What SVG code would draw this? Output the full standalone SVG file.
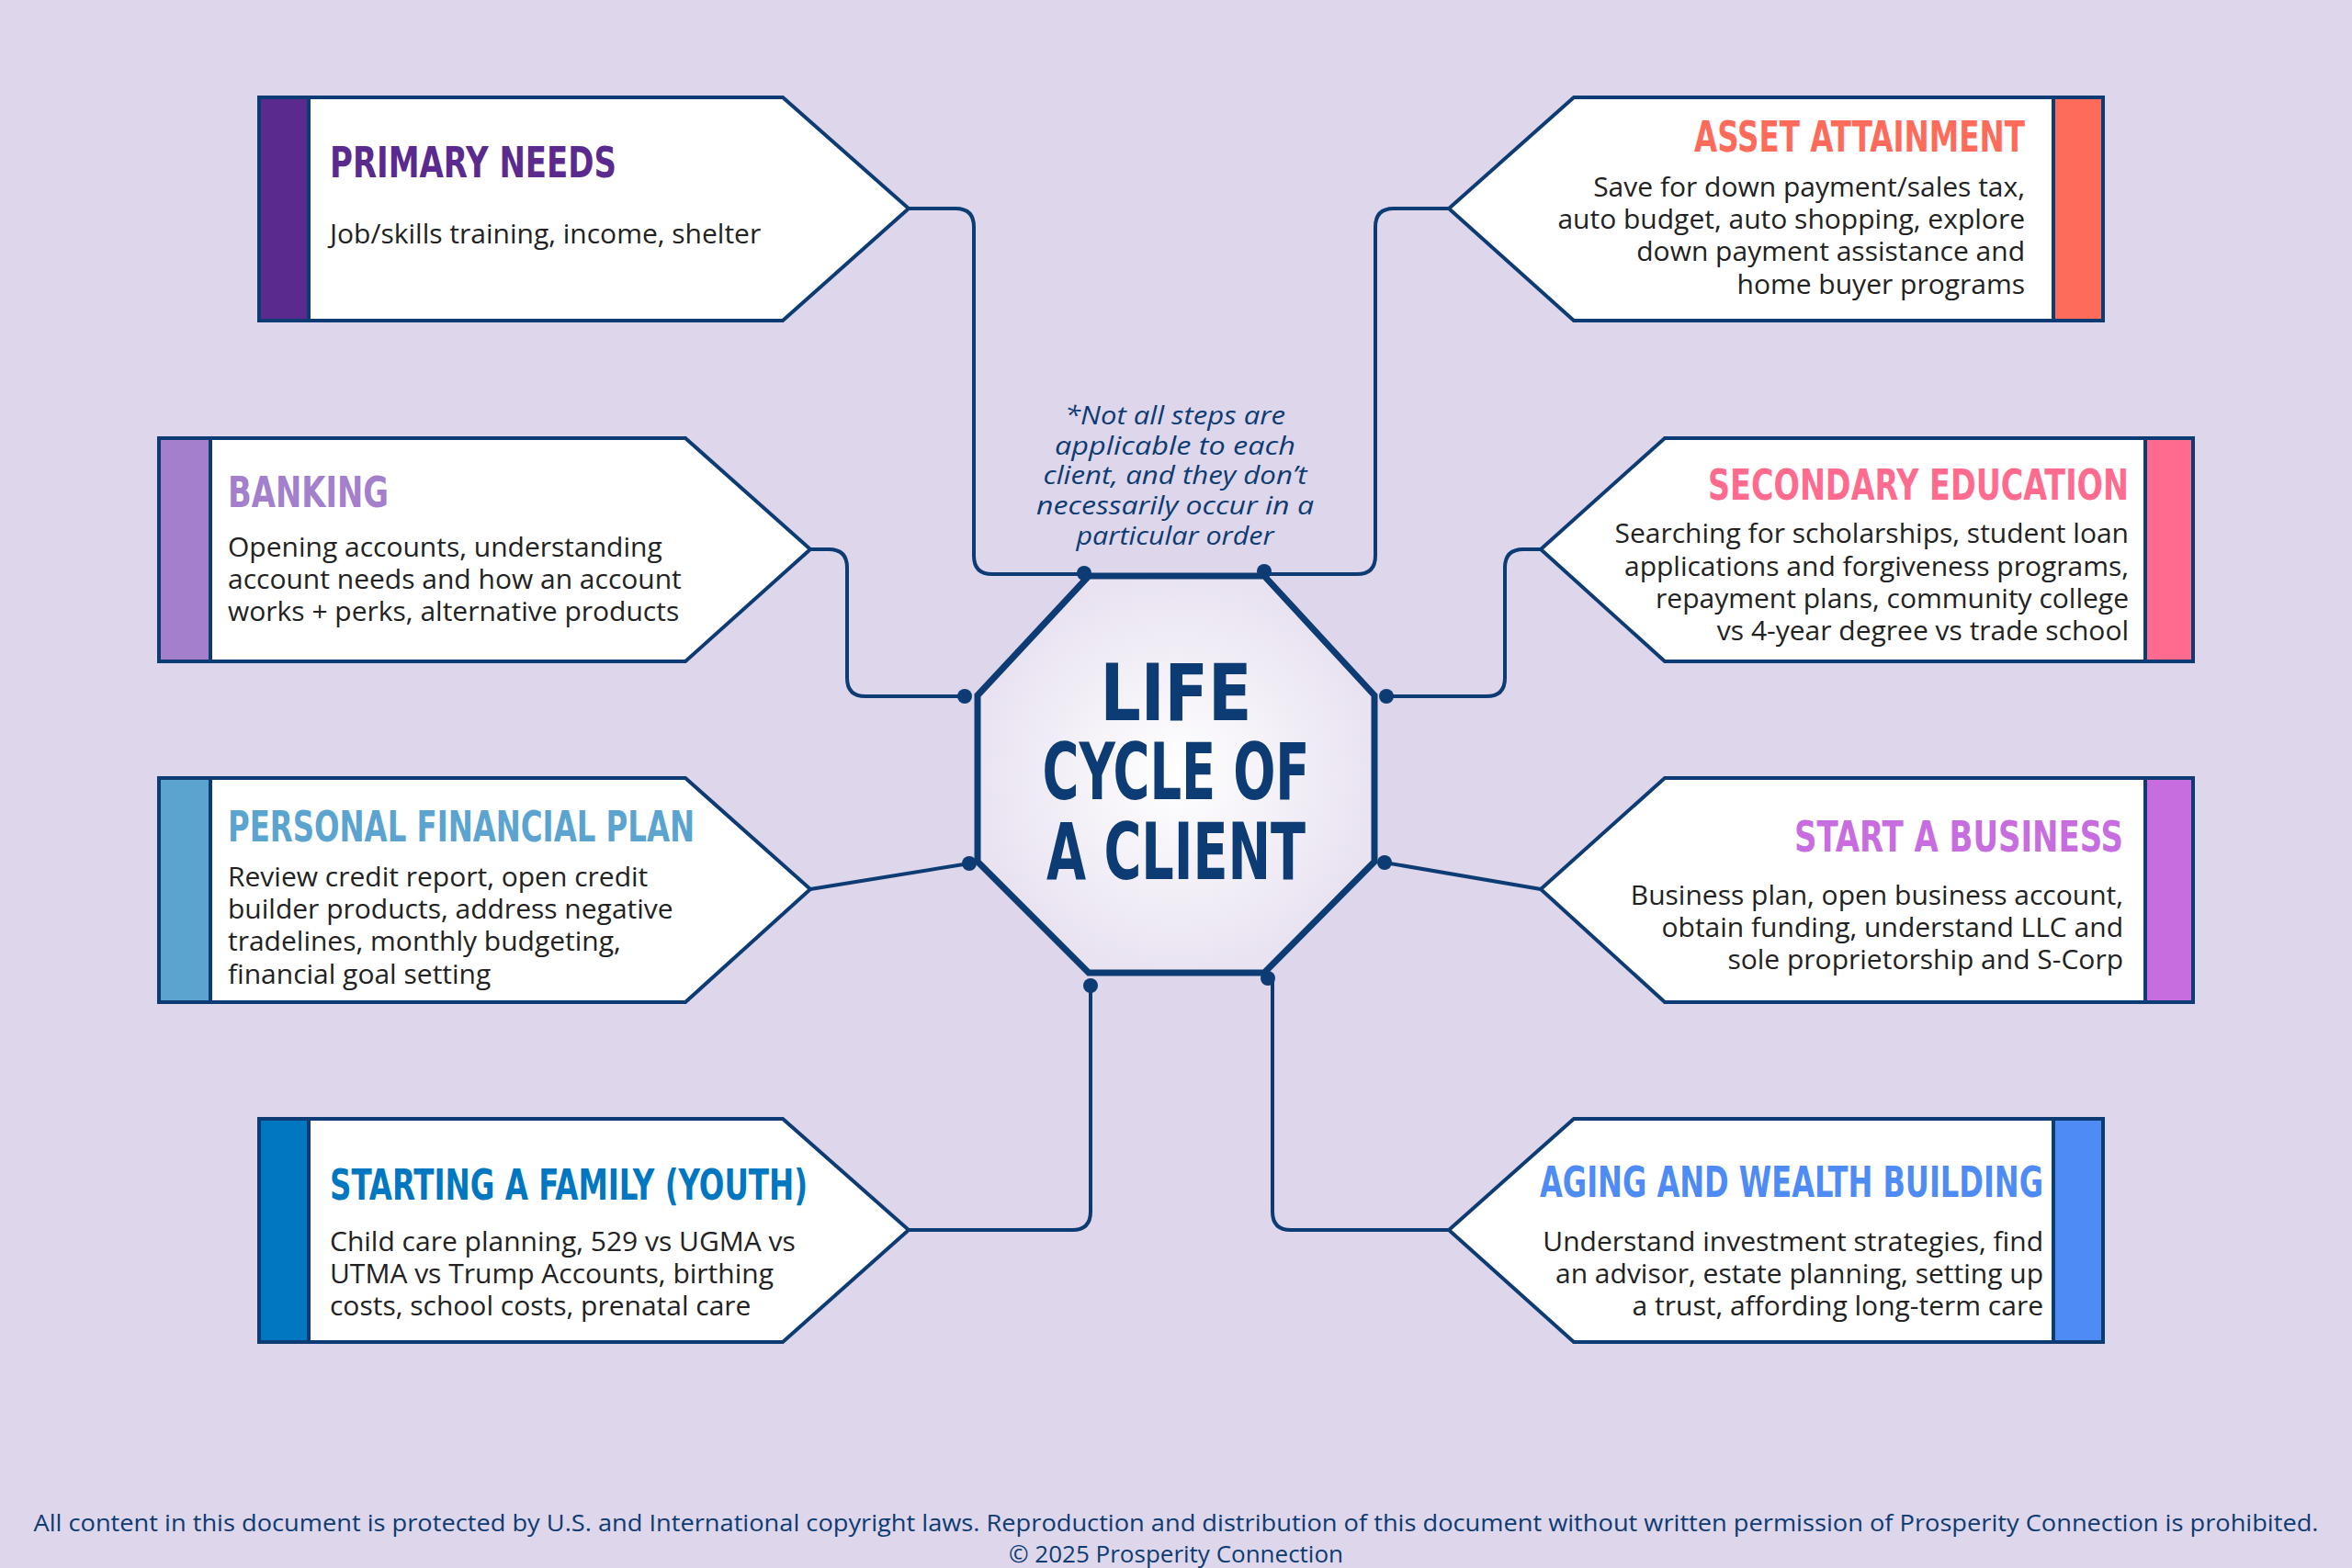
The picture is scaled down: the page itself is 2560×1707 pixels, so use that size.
<svg xmlns="http://www.w3.org/2000/svg" width="2560" height="1707" viewBox="0 0 2560 1707">
<defs>
<radialGradient id="og" cx="50%" cy="50%" r="50%"><stop offset="0" stop-color="#FFFFFF"/><stop offset="1" stop-color="#E9E3F1"/></radialGradient>
<style>
.box{fill:#fff;stroke:#0D3B73;stroke-width:4;stroke-linejoin:miter}
.bar{stroke:#0D3B73;stroke-width:4}
.t{font-family:"DejaVu Sans Condensed","DejaVu Sans",sans-serif;font-weight:bold;font-size:46px}
.b{font-family:"Open Sans",Lato,sans-serif;font-size:30px;fill:#222}
.r{text-anchor:end}
.c{fill:none;stroke:#0D3B73;stroke-width:4}
.d{fill:#0D3B73}
</style>
</defs>
<rect width="2560" height="1707" fill="#DED6EA"/>
<g id="connectors">
<path class="c" d="M989 227 H1040 Q1060 227 1060 247 V605 Q1060 625 1080 625 H1180"/>
<path class="c" d="M1577 227 H1517 Q1497 227 1497 247 V605 Q1497 625 1477 625 H1376"/>
<path class="c" d="M882 598 H902 Q922 598 922 618 V738 Q922 758 942 758 H1050"/>
<path class="c" d="M1677 598 H1658 Q1638 598 1638 618 V738 Q1638 758 1618 758 H1509"/>
<path class="c" d="M882 968 L1055 940"/>
<path class="c" d="M1677 968 L1507 939"/>
<path class="c" d="M989 1339 H1167 Q1187 1339 1187 1319 V1073"/>
<path class="c" d="M1577 1339 H1405 Q1385 1339 1385 1319 V1065"/>
<circle class="d" cx="1180" cy="624" r="8"/><circle class="d" cx="1376" cy="622" r="8"/>
<circle class="d" cx="1050" cy="758" r="8"/><circle class="d" cx="1055" cy="940" r="8"/>
<circle class="d" cx="1509" cy="758" r="8"/><circle class="d" cx="1507" cy="939" r="8"/>
<circle class="d" cx="1187" cy="1073" r="8"/><circle class="d" cx="1380" cy="1065" r="8"/>
</g>
<g id="center">
<polygon points="1185,627 1376,627 1496,757 1496,938 1376,1059 1185,1059 1064,938 1064,757" fill="url(#og)" stroke="#0D3B73" stroke-width="7"/>
<g font-family="'DejaVu Sans Condensed','DejaVu Sans',sans-serif" font-weight="bold" font-size="86" fill="#0D3B73" text-anchor="middle">
<text x="1280" y="784" textLength="165" lengthAdjust="spacingAndGlyphs">LIFE</text>
<text x="1280" y="870" textLength="291" lengthAdjust="spacingAndGlyphs">CYCLE OF</text>
<text x="1280" y="957" textLength="282" lengthAdjust="spacingAndGlyphs">A CLIENT</text>
</g>
</g>
<g id="note" font-family="'Open Sans',sans-serif" font-style="italic" font-size="28" fill="#0D3B73" text-anchor="middle">
<text x="1279" y="462" textLength="240" lengthAdjust="spacingAndGlyphs">*Not all steps are</text>
<text x="1279" y="495" textLength="262" lengthAdjust="spacingAndGlyphs">applicable to each</text>
<text x="1279" y="527" textLength="287" lengthAdjust="spacingAndGlyphs">client, and they don’t</text>
<text x="1279" y="560" textLength="302" lengthAdjust="spacingAndGlyphs">necessarily occur in a</text>
<text x="1279" y="593" textLength="215" lengthAdjust="spacingAndGlyphs">particular order</text>
</g>
<g id="primary">
<polygon class="box" points="282,106 852,106 989,227 852,349 282,349"/>
<rect class="bar" x="282" y="106" width="54" height="243" fill="#5B2A8E"/>
<text class="t" x="359" y="193" fill="#5B2A8E" textLength="312" lengthAdjust="spacingAndGlyphs">PRIMARY NEEDS</text>
<text class="b" x="359" y="265">Job/skills training, income, shelter</text>
</g>
<g id="banking">
<polygon class="box" points="173,477 746,477 882,598 746,720 173,720"/>
<rect class="bar" x="173" y="477" width="56" height="243" fill="#A37FCC"/>
<text class="t" x="248" y="552" fill="#A37FCC" textLength="175" lengthAdjust="spacingAndGlyphs">BANKING</text>
<text class="b" x="248" y="606">Opening accounts, understanding</text>
<text class="b" x="248" y="641">account needs and how an account</text>
<text class="b" x="248" y="676">works + perks, alternative products</text>
</g>
<g id="pfp">
<polygon class="box" points="173,847 746,847 882,968 746,1091 173,1091"/>
<rect class="bar" x="173" y="847" width="56" height="244" fill="#5BA4D0"/>
<text class="t" x="248" y="916" fill="#5BA4D0" textLength="508" lengthAdjust="spacingAndGlyphs">PERSONAL FINANCIAL PLAN</text>
<text class="b" x="248" y="965">Review credit report, open credit</text>
<text class="b" x="248" y="1000">builder products, address negative</text>
<text class="b" x="248" y="1035">tradelines, monthly budgeting,</text>
<text class="b" x="248" y="1071">financial goal setting</text>
</g>
<g id="family">
<polygon class="box" points="282,1218 852,1218 989,1339 852,1461 282,1461"/>
<rect class="bar" x="282" y="1218" width="54" height="243" fill="#0077C0"/>
<text class="t" x="359" y="1306" fill="#0077C0" textLength="520" lengthAdjust="spacingAndGlyphs">STARTING A FAMILY (YOUTH)</text>
<text class="b" x="359" y="1362">Child care planning, 529 vs UGMA vs</text>
<text class="b" x="359" y="1397">UTMA vs Trump Accounts, birthing</text>
<text class="b" x="359" y="1432">costs, school costs, prenatal care</text>
</g>
<g id="asset">
<polygon class="box" points="2289,106 1713,106 1577,227 1713,349 2289,349"/>
<rect class="bar" x="2235" y="106" width="54" height="243" fill="#FF6B5B"/>
<text class="t r" x="2204" y="165" fill="#FF6B5B" textLength="360" lengthAdjust="spacingAndGlyphs">ASSET ATTAINMENT</text>
<text class="b r" x="2204" y="214">Save for down payment/sales tax,</text>
<text class="b r" x="2204" y="249">auto budget, auto shopping, explore</text>
<text class="b r" x="2204" y="284">down payment assistance and</text>
<text class="b r" x="2204" y="320">home buyer programs</text>
</g>
<g id="secondary">
<polygon class="box" points="2387,477 1812,477 1677,598 1812,720 2387,720"/>
<rect class="bar" x="2335" y="477" width="52" height="243" fill="#FF6B8E"/>
<text class="t r" x="2317" y="544" fill="#FF6B8E" textLength="458" lengthAdjust="spacingAndGlyphs">SECONDARY EDUCATION</text>
<text class="b r" x="2317" y="591">Searching for scholarships, student loan</text>
<text class="b r" x="2317" y="627">applications and forgiveness programs,</text>
<text class="b r" x="2317" y="662">repayment plans,  community college</text>
<text class="b r" x="2317" y="697">vs 4-year degree vs trade school</text>
</g>
<g id="business">
<polygon class="box" points="2387,847 1812,847 1677,968 1812,1091 2387,1091"/>
<rect class="bar" x="2335" y="847" width="52" height="244" fill="#C86DE0"/>
<text class="t r" x="2311" y="927" fill="#C86DE0" textLength="358" lengthAdjust="spacingAndGlyphs">START A BUSINESS</text>
<text class="b r" x="2311" y="985">Business plan, open business account,</text>
<text class="b r" x="2311" y="1020">obtain funding, understand LLC and</text>
<text class="b r" x="2311" y="1055">sole proprietorship and S-Corp</text>
</g>
<g id="aging">
<polygon class="box" points="2289,1218 1713,1218 1577,1339 1713,1461 2289,1461"/>
<rect class="bar" x="2235" y="1218" width="54" height="243" fill="#4F8BF5"/>
<text class="t r" x="2224" y="1303" fill="#4F8BF5" textLength="548" lengthAdjust="spacingAndGlyphs">AGING AND WEALTH BUILDING</text>
<text class="b r" x="2224" y="1362">Understand investment strategies, find</text>
<text class="b r" x="2224" y="1397">an advisor, estate planning, setting up</text>
<text class="b r" x="2224" y="1432">a trust, affording long-term care</text>
</g>
<g id="footer" font-family="'Open Sans',sans-serif" font-size="26" fill="#0D3B73" text-anchor="middle">
<text x="1280" y="1667" textLength="2487" lengthAdjust="spacingAndGlyphs">All content in this document is protected by U.S. and International copyright laws. Reproduction and distribution of this document without written permission of Prosperity Connection is prohibited.</text>
<text x="1280" y="1701">© 2025 Prosperity Connection</text>
</g>
</svg>
